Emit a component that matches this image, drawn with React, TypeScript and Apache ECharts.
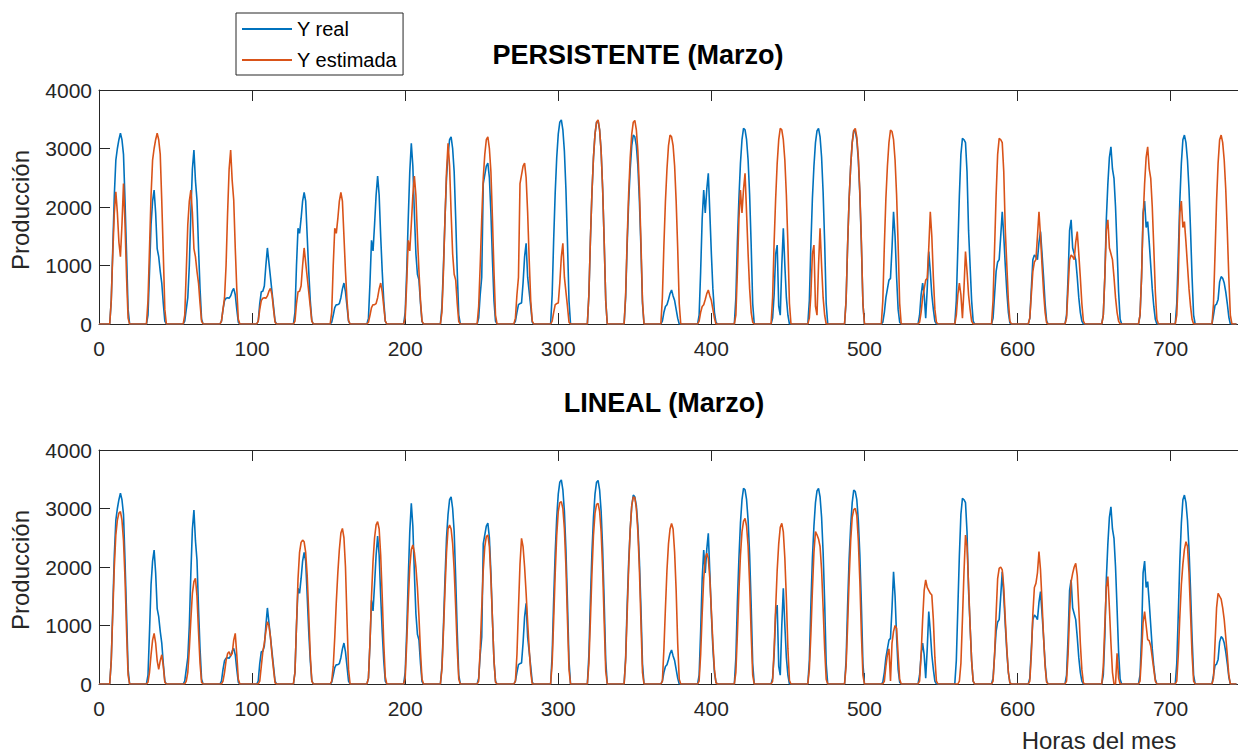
import React, { useEffect, useRef } from "react";
import * as echarts from "echarts";

// Hourly production, each row = one day of March, values for hours 7..20 (0 at other hours)
const FIRST_HOUR = 7;

const realDays: number[][] = [
  [0, 400, 1300, 2200, 2800, 3000, 3150, 3260, 3150, 2900, 2100, 1200, 250, 0],
  [0, 150, 900, 1700, 2100, 2290, 1900, 1290, 1150, 900, 700, 350, 50, 0],
  [0, 50, 250, 450, 1000, 1900, 2650, 2975, 2450, 2120, 1300, 600, 80, 0],
  [0, 50, 250, 400, 440, 450, 440, 480, 560, 610, 500, 250, 30, 0],
  [0, 50, 350, 550, 560, 650, 1000, 1300, 1050, 800, 550, 300, 50, 0],
  [0, 200, 1000, 1635, 1550, 1800, 2100, 2250, 2100, 1500, 900, 400, 60, 0],
  [0, 30, 150, 280, 330, 330, 350, 450, 600, 700, 550, 300, 50, 0],
  [0, 100, 700, 1430, 1250, 1700, 2200, 2530, 2200, 1500, 900, 400, 50, 0],
  [0, 200, 900, 1800, 2600, 3090, 2700, 1900, 1200, 850, 750, 350, 40, 0],
  [0, 300, 1000, 1800, 2500, 2900, 3150, 3200, 3000, 2600, 1800, 900, 150, 0],
  [0, 100, 500, 800, 2400, 2550, 2700, 2750, 2500, 1900, 1100, 400, 50, 0],
  [0, 50, 200, 330, 350, 360, 700, 1150, 1380, 800, 550, 300, 30, 0],
  [0, 500, 1450, 2250, 2850, 3250, 3450, 3490, 3320, 2950, 2300, 1400, 400, 0],
  [0, 500, 1450, 2250, 2850, 3250, 3450, 3480, 3320, 2950, 2300, 1400, 400, 0],
  [0, 450, 1350, 2100, 2650, 3050, 3230, 3200, 3050, 2700, 2100, 1300, 350, 0],
  [0, 50, 200, 300, 330, 420, 520, 580, 480, 400, 250, 100, 0, 0],
  [0, 150, 900, 1800, 2290, 1900, 2300, 2575, 1900, 1200, 600, 200, 30, 0],
  [0, 450, 1400, 2150, 2750, 3150, 3345, 3320, 3150, 2800, 2200, 1350, 350, 0],
  [0, 100, 500, 1200, 1350, 300, 150, 1000, 1635, 1000, 450, 150, 0, 0],
  [0, 400, 1350, 2150, 2700, 3100, 3300, 3345, 3200, 2850, 2250, 1400, 350, 0],
  [0, 400, 1350, 2150, 2700, 3100, 3316, 3290, 3150, 2800, 2200, 1350, 350, 0],
  [0, 30, 200, 450, 600, 750, 780, 1300, 1920, 1500, 800, 250, 30, 0],
  [0, 150, 500, 700, 500, 100, 600, 1240, 900, 500, 250, 50, 0, 0],
  [0, 400, 1300, 2200, 2900, 3174, 3150, 3100, 2600, 1600, 1000, 400, 50, 0],
  [0, 100, 500, 900, 1060, 1100, 1500, 1920, 1500, 1000, 550, 200, 20, 0],
  [0, 100, 600, 1100, 1180, 1150, 1100, 1400, 1580, 1200, 800, 350, 50, 0],
  [0, 150, 800, 1600, 1780, 1300, 1200, 1100, 800, 450, 200, 50, 0, 0],
  [0, 150, 800, 1800, 2400, 2850, 3030, 2650, 2490, 2000, 1300, 550, 80, 0],
  [0, 150, 800, 1900, 2100, 1650, 1750, 1400, 1000, 600, 300, 80, 0, 0],
  [0, 350, 1200, 2100, 2750, 3150, 3230, 3100, 2800, 2300, 1600, 800, 150, 0],
  [0, 150, 320, 340, 420, 720, 810, 780, 700, 550, 350, 120, 0, 0],
];

// last day of February (used by the persistence model for 1 March)
const feb28: number[] = [0, 400, 1200, 1900, 2260, 1900, 1400, 1150, 1700, 2400, 1700, 800, 100, 0];

const linealDays: number[][] = [
  [0, 400, 1200, 2000, 2550, 2800, 2920, 2946, 2800, 2450, 1800, 900, 150, 0],
  [0, 30, 200, 500, 750, 866, 700, 400, 250, 400, 500, 300, 30, 0],
  [0, 0, 50, 200, 600, 1100, 1550, 1750, 1806, 1500, 900, 350, 30, 0],
  [0, 0, 50, 200, 400, 520, 550, 480, 520, 750, 866, 500, 80, 0],
  [0, 0, 50, 300, 550, 700, 900, 1065, 1000, 800, 500, 250, 20, 0],
  [0, 200, 1000, 1800, 2250, 2420, 2460, 2430, 2250, 1850, 1200, 500, 50, 0],
  [0, 50, 300, 800, 1400, 1900, 2300, 2580, 2660, 2500, 2000, 1100, 250, 0],
  [0, 100, 700, 1500, 2100, 2500, 2720, 2775, 2650, 2200, 1500, 700, 120, 0],
  [0, 100, 700, 1400, 2000, 2300, 2376, 2250, 2000, 1650, 1150, 550, 80, 0],
  [0, 250, 900, 1600, 2250, 2650, 2718, 2650, 2400, 1950, 1300, 600, 80, 0],
  [0, 50, 600, 1300, 1950, 2350, 2520, 2547, 2350, 1800, 1100, 400, 30, 0],
  [0, 50, 500, 1300, 2050, 2490, 2350, 2000, 1550, 1050, 600, 200, 0, 0],
  [0, 350, 1100, 1900, 2550, 2950, 3100, 3117, 3000, 2650, 2000, 1100, 250, 0],
  [0, 350, 1100, 1900, 2550, 2920, 3070, 3088, 2950, 2600, 1950, 1050, 220, 0],
  [0, 400, 1200, 2000, 2650, 3050, 3200, 3180, 3000, 2600, 1950, 1050, 200, 0],
  [0, 50, 600, 1300, 1950, 2400, 2650, 2746, 2650, 2250, 1600, 700, 80, 0],
  [0, 50, 500, 1200, 1800, 2150, 2234, 2150, 1800, 1250, 700, 250, 20, 0],
  [0, 200, 850, 1600, 2200, 2600, 2780, 2832, 2700, 2350, 1700, 850, 150, 0],
  [0, 50, 600, 1300, 1950, 2400, 2680, 2746, 2600, 2150, 1450, 600, 60, 0],
  [0, 250, 850, 1600, 2250, 2604, 2550, 2480, 2350, 1950, 1300, 600, 80, 0],
  [0, 300, 1000, 1800, 2450, 2850, 2980, 3003, 2880, 2450, 1750, 850, 150, 0],
  [0, 0, 50, 300, 500, 600, 50, 700, 900, 1000, 950, 500, 80, 0],
  [0, 50, 500, 1100, 1600, 1778, 1650, 1600, 1550, 1520, 1100, 450, 50, 0],
  [0, 0, 0, 50, 350, 1100, 1900, 2547, 2350, 1700, 1000, 400, 50, 0],
  [0, 50, 500, 1200, 1800, 1977, 2000, 1950, 1650, 1100, 600, 200, 20, 0],
  [0, 50, 500, 1200, 1650, 1720, 1900, 2262, 1950, 1400, 800, 300, 30, 0],
  [0, 50, 500, 1200, 1750, 1890, 2000, 2063, 1850, 1300, 700, 250, 20, 0],
  [0, 300, 1000, 1650, 1835, 1300, 700, 200, 0, 0, 524, 100, 0, 0],
  [0, 50, 500, 1050, 1236, 1000, 760, 740, 650, 450, 250, 50, 0, 0],
  [0, 50, 500, 1150, 1700, 2050, 2300, 2433, 2350, 1900, 1200, 500, 50, 0],
  [0, 100, 700, 1300, 1550, 1500, 1450, 1300, 1100, 800, 500, 150, 0, 0],
];

const X_MAX = 744;
const X_STEP = 100;
const Y_TICKS = [0, 1000, 2000, 3000, 4000];

const BLUE = "#0072BD";
const ORANGE = "#D95319";
const AXIS = "#262626";
const FONT = "'Liberation Sans', Arial, Helvetica, sans-serif";

function toSeries(days: number[][]): number[][] {
  const out: number[][] = [];
  days.forEach((day, d) => {
    for (let h = 0; h < 24; h++) {
      const i = h - FIRST_HOUR;
      out.push([d * 24 + h, i >= 0 && i < day.length ? day[i] : 0]);
    }
  });
  return out;
}

export default function App() {
  const ref = useRef<HTMLDivElement>(null);

  useEffect(() => {
    if (!ref.current) return;
    const chart = echarts.init(ref.current, undefined, { renderer: "svg" });

    const realData = toSeries(realDays);
    const persistData = toSeries([feb28, ...realDays.slice(0, -1)]);
    const linealData = toSeries(linealDays);

    const grids = [
      { left: 99, top: 90, width: 1149, height: 234 },
      { left: 99, top: 450, width: 1149, height: 234 },
    ];

    const xAxes: any[] = [];
    const yAxes: any[] = [];
    grids.forEach((_, g) => {
      const base = {
        type: "value",
        gridIndex: g,
        min: 0,
        max: X_MAX,
        interval: X_STEP,
        axisLine: { show: true, onZero: false, lineStyle: { color: AXIS, width: 1 } },
        axisTick: { show: true, inside: true, length: 11, lineStyle: { color: AXIS, width: 1 } },
        splitLine: { show: false },
      };
      xAxes.push({
        ...base,
        position: "bottom",
        axisLabel: {
          color: AXIS,
          fontSize: 21,
          fontFamily: FONT,
          margin: 14,
          showMaxLabel: false,
          formatter: (v: number) => (v % X_STEP === 0 ? String(v) : ""),
        },
      });
      xAxes.push({ ...base, position: "top", axisLabel: { show: false } });
      yAxes.push({
        type: "value",
        gridIndex: g,
        min: Y_TICKS[0],
        max: Y_TICKS[Y_TICKS.length - 1],
        interval: Y_TICKS[1] - Y_TICKS[0],
        axisLine: { show: true, lineStyle: { color: AXIS, width: 1 } },
        axisTick: { show: true, inside: true, length: 11, lineStyle: { color: AXIS, width: 1 } },
        axisLabel: { color: AXIS, fontSize: 21, fontFamily: FONT, margin: 7, formatter: (v: number) => String(v) },
        splitLine: { show: false },
      });
    });

    const line = (name: string, data: number[][], color: string, xi: number, yi: number, z: number) => ({
      name,
      type: "line",
      xAxisIndex: xi,
      yAxisIndex: yi,
      data,
      showSymbol: false,
      symbol: "none",
      z,
      lineStyle: { width: 1.6, color },
      itemStyle: { color },
    });

    chart.setOption({
      animation: false,
      backgroundColor: "#ffffff",
      grid: grids,
      xAxis: xAxes,
      yAxis: yAxes,
      legend: {
        left: 236,
        top: 13,
        orient: "vertical",
        data: ["Y real", "Y estimada"],
        icon: "rect",
        itemWidth: 50,
        itemHeight: 2,
        itemGap: 11,
        padding: [6, 6, 5, 6],
        borderColor: AXIS,
        borderWidth: 1,
        backgroundColor: "#ffffff",
        textStyle: { fontSize: 20, color: "#000", fontFamily: FONT },
      },
      series: [
        line("Y real", realData, BLUE, 0, 0, 2),
        line("Y estimada", persistData, ORANGE, 0, 0, 3),
        line("Y real", realData, BLUE, 2, 1, 2),
        line("Y estimada", linealData, ORANGE, 2, 1, 3),
      ],
      graphic: [
        {
          type: "text",
          x: 638,
          y: 55,
          style: { text: "PERSISTENTE (Marzo)", fontSize: 27, fontWeight: "bold", fontFamily: FONT, fill: "#000", textAlign: "center", textVerticalAlign: "middle" },
        },
        {
          type: "text",
          x: 664,
          y: 403,
          style: { text: "LINEAL (Marzo)", fontSize: 27, fontWeight: "bold", fontFamily: FONT, fill: "#000", textAlign: "center", textVerticalAlign: "middle" },
        },
        {
          type: "text",
          x: 20,
          y: 210,
          rotation: Math.PI / 2,
          style: { text: "Producción", fontSize: 24, fontFamily: FONT, fill: AXIS, textAlign: "center", textVerticalAlign: "middle" },
        },
        {
          type: "text",
          x: 20,
          y: 570,
          rotation: Math.PI / 2,
          style: { text: "Producción", fontSize: 24, fontFamily: FONT, fill: AXIS, textAlign: "center", textVerticalAlign: "middle" },
        },
        {
          type: "text",
          x: 1099,
          y: 740,
          style: { text: "Horas del mes", fontSize: 24, fontFamily: FONT, fill: AXIS, textAlign: "center", textVerticalAlign: "middle" },
        },
      ],
    });

    return () => chart.dispose();
  }, []);

  return (
    <div style={{ position: "fixed", left: 0, top: 0, width: "100vw", height: "100vh", overflow: "hidden", background: "#fff" }}>
      <div ref={ref} style={{ width: 1238, height: 755 }} />
    </div>
  );
}
